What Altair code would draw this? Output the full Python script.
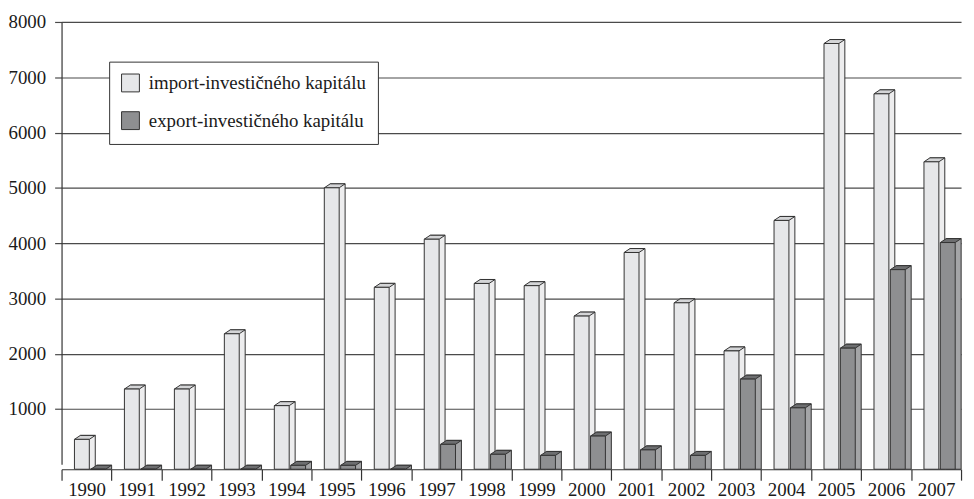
import altair as alt
import pandas as pd

years = [str(y) for y in range(1990, 2008)]
import_vals = [540, 1450, 1450, 2450, 1150, 5090, 3290, 4160, 3360, 3320,
               2770, 3920, 3010, 2140, 4500, 7700, 6790, 5560]
export_vals = [0, 0, 0, 0, 70, 70, 0, 450, 270, 250,
               600, 350, 250, 1630, 1110, 2190, 3610, 4100]
series_names = ["import-investičného kapitálu", "export-investičného kapitálu"]
y_ticks = [1000, 2000, 3000, 4000, 5000, 6000, 7000, 8000]

rows = []
for yr, v in zip(years, import_vals):
    rows.append({"year": yr, "series": series_names[0], "value": v})
for yr, v in zip(years, export_vals):
    rows.append({"year": yr, "series": series_names[1], "value": v})
df = pd.DataFrame(rows)

FONT = "Liberation Serif"
FS = 19
DARK = "#333333"
TOP_PATH = "M-1,0.1905L0.4286,0.1905L1,-0.1905L-0.4286,-0.1905Z"

x_enc = alt.X(
    "year:N",
    sort=years,
    scale=alt.Scale(range=[0, 907], paddingInner=0, paddingOuter=0),
    axis=alt.Axis(
        title=None, orient="bottom", offset=5, tickBand="extent", tickSize=11,
        labelPadding=0, labelAngle=0, labelFont=FONT, labelFontSize=FS,
        labelColor="#1a1a1a", domainColor=DARK, tickColor=DARK, grid=False,
        labelOverlap=False, domainWidth=1.2, tickWidth=1.2,
    ),
)
y_enc = alt.Y(
    "value:Q",
    stack=None,
    scale=alt.Scale(domain=[0, 8000], nice=False),
    axis=alt.Axis(
        title=None, values=y_ticks, format="d", tickSize=7, labelPadding=9,
        labelFont=FONT, labelFontSize=FS, labelColor="#1a1a1a",
        domainColor=DARK, tickColor="#4a4a4a", grid=True, gridColor="#4a4a4a",
        gridWidth=1.2, domainWidth=1.2, tickWidth=1.2,
    ),
)
color_enc = alt.Color(
    "series:N",
    sort=series_names,
    scale=alt.Scale(domain=series_names, range=["#e6e7e9", "#8e8f91"]),
    legend=alt.Legend(
        title=None, orient="none", legendX=48, legendY=40, direction="vertical",
        fillColor="white", strokeColor=DARK, padding=12, cornerRadius=0,
        symbolType="square", symbolSize=324, symbolStrokeColor=DARK,
        symbolStrokeWidth=1, labelFont=FONT, labelFontSize=FS,
        labelColor="#1a1a1a", labelOffset=9, rowPadding=15, labelLimit=400,
    ),
)


def series_layers(name, off, side, top):
    base = alt.Chart(df).transform_filter(alt.datum.series == name)
    depth = base.mark_bar(
        width=15, xOffset=off + 6, yOffset=1, y2Offset=5,
        fill=side, stroke=DARK, strokeWidth=1,
    ).encode(x=x_enc, y=y_enc, y2=alt.datum(0))
    topface = base.mark_point(
        shape=TOP_PATH, size=441, filled=True, fill=top, stroke=DARK,
        strokeWidth=1, opacity=1, xOffset=off + 3, yOffset=3,
    ).encode(x=x_enc, y=y_enc)
    front = base.mark_bar(
        width=15, xOffset=off, yOffset=5, y2Offset=5,
        stroke=DARK, strokeWidth=1,
    ).encode(x=x_enc, y=y_enc, y2=alt.datum(0), color=color_enc)
    return [depth, topface, front]


layers = series_layers(series_names[0], -4.7, "#ededee", "#d4d5d7") + \
         series_layers(series_names[1], 11.8, "#a4a5a7", "#6d6e70")

chart = alt.layer(*layers).properties(
    width=912,
    height=446,
    autosize=alt.AutoSizeParams(type="none"),
    padding={"left": 54, "top": 12, "right": 0, "bottom": 40},
    background="white",
).configure_view(strokeWidth=0)

chart.save("out.html", embed_options={"renderer": "svg", "actions": False})
